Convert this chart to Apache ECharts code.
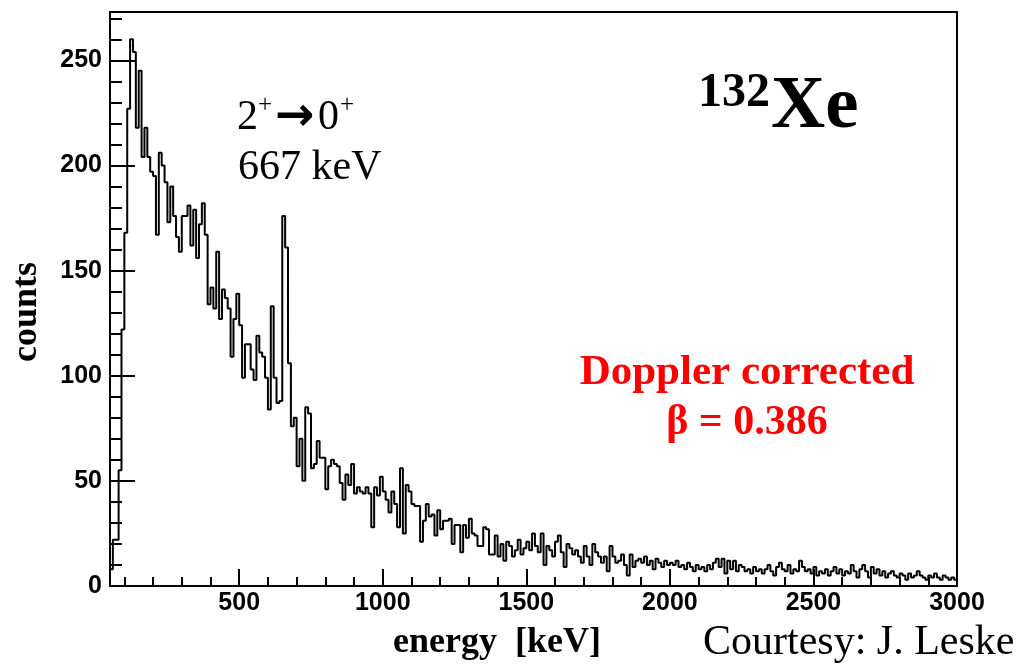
<!DOCTYPE html>
<html>
<head>
<meta charset="utf-8">
<script src="https://cdn.jsdelivr.net/npm/echarts@6/dist/echarts.min.js"></script>
<style>
  html, body { margin: 0; padding: 0; background: #fff; }
  #chart { width: 1020px; height: 665px; }
</style>
</head>
<body>
<div id="chart"></div>
<script>
// histogram binning (keV)
const binStart = 50;
const binWidth = 10;

// counts per 10 keV bin
const counts50to490 = [
  8, 22, 22, 55, 122, 168, 227, 260, 254, 218,
  245, 204, 218, 204, 197, 195, 167, 206, 200, 192,
  173, 190, 176, 166, 159, 176, 176, 181, 162, 179,
  156, 172, 182, 167, 134, 142, 132, 159, 127, 141,
  137, 132, 109, 127, 139
];
const counts500to990 = [
  124, 99, 115, 115, 103, 98, 119, 111, 109, 99,
  84, 133, 99, 87, 88, 176, 161, 106, 76, 80,
  57, 70, 50, 85, 82, 56, 58, 69, 61, 61,
  46, 57, 60, 58, 57, 49, 41, 53, 48, 58,
  44, 47, 45, 44, 47, 44, 28, 47, 43, 52
];
const counts1000to1490 = [
  45, 41, 35, 45, 39, 28, 56, 25, 48, 45,
  39, 38, 38, 21, 31, 39, 33, 34, 24, 36,
  27, 31, 31, 32, 20, 29, 29, 16, 29, 23,
  32, 25, 24, 19, 19, 28, 27, 15, 15, 24,
  14, 20, 12, 21, 19, 14, 17, 22, 15, 18
];
const counts1500to1990 = [
  21, 17, 25, 19, 16, 25, 10, 19, 17, 14,
  21, 24, 16, 9, 20, 18, 15, 17, 14, 11,
  19, 14, 10, 20, 16, 14, 11, 14, 7, 19,
  14, 11, 12, 15, 10, 5, 15, 9, 12, 13,
  11, 14, 10, 12, 8, 13, 11, 9, 12, 10
];
const counts2000to2990 = [
  11, 10, 12, 9, 10, 8, 11, 9, 7, 10,
  8, 9, 7, 10, 8, 11, 13, 9, 13, 6,
  12, 8, 12, 7, 10, 9, 7, 8, 6, 9,
  7, 8, 6, 8, 10, 7, 5, 9, 11, 8,
  7, 10, 6, 8, 7, 12, 9, 7, 8, 6,
  9, 5, 7, 6, 8, 5, 7, 9, 6, 8,
  5, 7, 6, 10, 7, 4, 8, 10, 7, 4,
  9, 6, 8, 5, 7, 4, 6, 7, 5, 4,
  6, 5, 3, 6, 4, 5, 7, 5, 4, 3,
  5, 4, 6, 4, 3, 5, 4, 3, 4, 3
];

// axis ticks
const xLabels = [500, 1000, 1500, 2000, 2500, 3000];
const xMinorTicks = [100, 200, 300, 400, 600, 700, 800, 900, 1100, 1200, 1300, 1400,
  1600, 1700, 1800, 1900, 2100, 2200, 2300, 2400, 2600, 2700, 2800, 2900];
const yLabels = [0, 50, 100, 150, 200, 250];
const yMinorTicks = [10, 20, 30, 40, 60, 70, 80, 90, 110, 120, 130, 140,
  160, 170, 180, 190, 210, 220, 230, 240, 260, 270];

const counts = [].concat(counts50to490, counts500to990, counts1000to1490,
  counts1500to1990, counts2000to2990);
const histData = counts.map((c, i) => [binStart + i * binWidth, c]);
histData.push([binStart + counts.length * binWidth, counts[counts.length - 1]]);

const SANS = "'Liberation Sans', Arial, sans-serif";
const SERIF = "'Liberation Serif', 'Times New Roman', serif";

const myChart = echarts.init(document.getElementById("chart"), null, { renderer: "canvas" });

const tickLine = { color: "#000", width: 2 };
const label = {
  color: "#000", fontFamily: SANS, fontWeight: "bold", fontSize: 25,
  formatter: (v) => String(v),
};

function txt(x, y, text, font, extra) {
  return {
    type: "text", x: x, y: y,
    style: Object.assign({ text: text, font: font, fill: "#000", align: "left", verticalAlign: "middle" }, extra || {}),
  };
}

myChart.setOption({
  animation: false,
  backgroundColor: "#fff",
  grid: {
    left: 110, right: 63, top: 12, bottom: 79,
    show: true, borderColor: "#000", borderWidth: 2, backgroundColor: "transparent",
  },
  xAxis: [
    {
      type: "value", min: 50, max: 3000, position: "bottom",
      axisLine: { show: true, lineStyle: tickLine },
      axisTick: { show: true, inside: true, length: 17, lineStyle: tickLine, customValues: xLabels },
      axisLabel: { ...label, margin: 5, customValues: xLabels },
      splitLine: { show: false },
    },
    {
      type: "value", min: 50, max: 3000, position: "bottom",
      axisLine: { show: false },
      axisTick: { show: true, inside: true, length: 9, lineStyle: tickLine, customValues: xMinorTicks },
      axisLabel: { show: false },
      splitLine: { show: false },
    },
  ],
  yAxis: [
    {
      type: "value", min: 0, max: 273, position: "left",
      axisLine: { show: true, lineStyle: tickLine },
      axisTick: { show: true, inside: true, length: 25, lineStyle: tickLine, customValues: yLabels },
      axisLabel: { ...label, margin: 8, customValues: yLabels },
      splitLine: { show: false },
    },
    {
      type: "value", min: 0, max: 273, position: "left",
      axisLine: { show: false },
      axisTick: { show: true, inside: true, length: 12, lineStyle: tickLine, customValues: yMinorTicks },
      axisLabel: { show: false },
      splitLine: { show: false },
    },
  ],
  series: [
    {
      type: "line",
      step: "end",
      data: histData,
      symbol: "none",
      clip: true,
      lineStyle: { color: "#000", width: 2 },
    },
  ],
  graphic: [
    Object.assign(txt(27, 312, "counts", "bold 36px " + SERIF, { align: "center" }), { rotation: Math.PI / 2 }),
    txt(393, 643, "energy  [keV]", "bold 36px " + SERIF),
    txt(703, 643, "Courtesy: J. Leske", "42px " + SERIF),
    txt(237, 118, "2", "42px " + SERIF),
    txt(258, 105, "+", "25px " + SERIF),
    txt(275, 118, "\u2192", "bold 47px 'DejaVu Sans', sans-serif"),
    txt(318, 118, "0", "42px " + SERIF),
    txt(340, 105, "+", "25px " + SERIF),
    txt(238, 168, "667 keV", "42px " + SERIF),
    txt(698, 94, "132", "bold 48px " + SERIF),
    txt(771, 108, "Xe", "bold 75px " + SERIF),
    txt(747, 373, "Doppler corrected", "bold 43px " + SERIF, { align: "center", fill: "#ff0000" }),
    txt(747, 423, "\u03b2 = 0.386", "bold 42px " + SERIF, { align: "center", fill: "#ff0000" }),
  ],
});
</script>
</body>
</html>
